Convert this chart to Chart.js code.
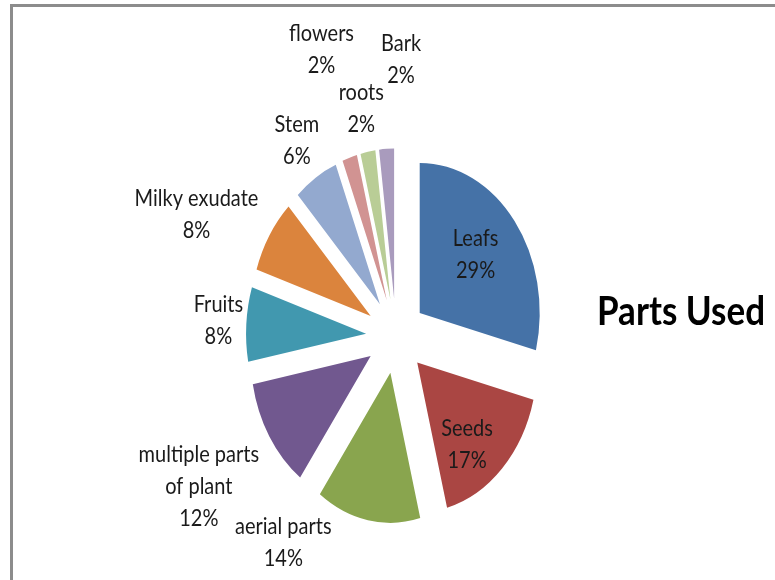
<!DOCTYPE html>
<html lang="en">
<head>
<meta charset="UTF-8">
<title>Parts Used</title>
<style>
  body { margin: 0; background: #fff; }
  #wrap { position: relative; width: 775px; height: 580px; overflow: hidden; }
  #frame { position: absolute; left: 10px; top: 4px; width: 800px; height: 600px;
           border-top: 3px solid #8c8c8c; border-left: 3px solid #8c8c8c; }
  #box { position: absolute; left: 0; top: 0; width: 775px; height: 580px; }
</style>
</head>
<body>
<div id="wrap">
  <div id="frame"></div>
  <div id="box"><canvas id="partsChart"></canvas></div>
</div>
<script src="https://cdn.jsdelivr.net/npm/chart.js"></script>
<script>
// plant parts used, share of records in %
const parts = ['Leafs', 'Seeds', 'aerial parts', ['multiple parts', 'of plant'], 'Fruits',
               'Milky exudate', 'Stem', 'flowers', 'roots', 'Bark'];
const percents = [29, 17, 14, 12, 8, 8, 6, 2, 2, 2];
const chartTitle = 'Parts Used';

const sliceColors = ['#4572A7', '#AA4643', '#89A54E', '#71588F', '#4198AF',
                     '#DB843D', '#93A9CF', '#D19392', '#B9CD96', '#A99BBD'];

const PIE_RADIUS = 120;
const EXPLODE = 30;       // how far each slice is pulled out
const STRETCH = 1.25;     // pie is drawn taller than wide
const TEXT_STRETCH = 1.15;
const LINE_H = 32;

// where each label sits: distance from the centre and a small turn off the slice middle
const labelDist = [103, 112, 200, 231, 178, 222, 185, 241, 185, 221];
const labelTurn = [-1.6, 5.6, 23.5, 1, 0.3, -6.4, 0, 0, 0, 4.9];

function pieCentre(chart) {
  const a = chart.chartArea;
  return { x: (a.left + a.right) / 2, y: (a.top + a.bottom) / 2 };
}

const explodedPie = {
  id: 'explodedPie',
  afterDatasetUpdate(chart, args) {
    // pull every slice out along its middle
    args.meta.data.forEach(arc => {
      const mid = (arc.startAngle + arc.endAngle) / 2;
      arc.x += Math.cos(mid) * EXPLODE;
      arc.y += Math.sin(mid) * EXPLODE;
    });
  },
  beforeDatasetsDraw(chart) {
    const ctx = chart.ctx;
    const c = pieCentre(chart);
    ctx.save();
    ctx.translate(c.x, c.y);
    ctx.scale(1, STRETCH);
    ctx.translate(-c.x, -c.y);
  },
  afterDatasetsDraw(chart) {
    chart.ctx.restore();
  },
  afterDraw(chart) {
    const ctx = chart.ctx;
    const meta = chart.getDatasetMeta(0);
    const c = pieCentre(chart);
    ctx.save();
    ctx.fillStyle = '#1a1a1a';
    ctx.textAlign = 'center';
    ctx.textBaseline = 'middle';
    ctx.font = '20px Lato';
    meta.data.forEach((arc, i) => {
      const mid = (arc.startAngle + arc.endAngle) / 2 + labelTurn[i] * Math.PI / 180;
      const x = c.x + Math.cos(mid) * labelDist[i];
      const y = c.y + Math.sin(mid) * labelDist[i] * STRETCH;
      const name = chart.data.labels[i];
      const lines = (Array.isArray(name) ? name : [name]).concat(percents[i] + '%');
      const top = y - (lines.length - 1) * LINE_H / 2;
      lines.forEach((line, k) => {
        ctx.save();
        ctx.translate(x, top + k * LINE_H);
        ctx.scale(1, TEXT_STRETCH);
        ctx.fillText(line, 0, 0);
        ctx.restore();
      });
    });

    // chart title on the right
    ctx.fillStyle = '#000';
    ctx.textAlign = 'left';
    ctx.textBaseline = 'alphabetic';
    ctx.font = 'bold 35px Lato';
    ctx.translate(597, 325);
    ctx.scale(1, TEXT_STRETCH);
    ctx.fillText(chartTitle, 0, 0);
    ctx.restore();
  }
};

new Chart(document.getElementById('partsChart'), {
  type: 'pie',
  data: {
    labels: parts,
    datasets: [{
      data: percents,
      backgroundColor: sliceColors,
      borderWidth: 0,
      clip: false
    }]
  },
  options: {
    responsive: true,
    maintainAspectRatio: false,
    animation: false,
    events: [],
    radius: PIE_RADIUS,
    layout: { padding: { left: 17, right: 0, top: 92, bottom: 0 } },
    plugins: {
      legend: { display: false },
      tooltip: { enabled: false }
    }
  },
  plugins: [explodedPie]
});
</script>
</body>
</html>
